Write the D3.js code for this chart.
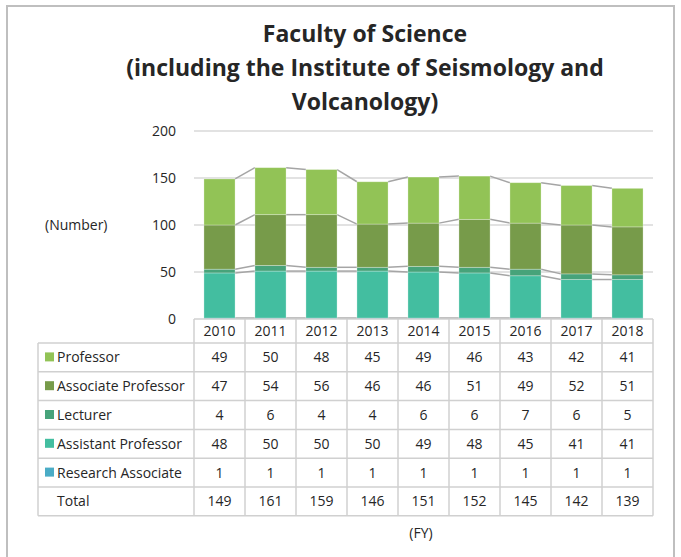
<!DOCTYPE html>
<html lang="en">
<head>
    <meta charset="UTF-8">
    <title>Faculty of Science</title>
    <script src="https://d3js.org/d3.v7.min.js"></script>
    <style>
        body { margin: 0; background: #fff; }
        svg text { font-family: "Open Sans", "Noto Sans", sans-serif; fill: #262626; }
    </style>
</head>
<body>
    <div id="chart"></div>
    <script>
        const years = ["2010", "2011", "2012", "2013", "2014", "2015", "2016", "2017", "2018"];
        const professor = [49, 50, 48, 45, 49, 46, 43, 42, 41];
        const associateProfessor = [47, 54, 56, 46, 46, 51, 49, 52, 51];
        const lecturer = [4, 6, 4, 4, 6, 6, 7, 6, 5];
        const assistantProfessor = [48, 50, 50, 50, 49, 48, 45, 41, 41];
        const researchAssociate = [1, 1, 1, 1, 1, 1, 1, 1, 1];
        const totals = [149, 161, 159, 146, 151, 152, 145, 142, 139];
        const yTicks = [0, 50, 100, 150, 200];

        // bottom of stack first
        const series = [
            { name: "Research Associate", values: researchAssociate, color: "#4aacc6" },
            { name: "Assistant Professor", values: assistantProfessor, color: "#43bea0" },
            { name: "Lecturer", values: lecturer, color: "#47a37a" },
            { name: "Associate Professor", values: associateProfessor, color: "#779b4a" },
            { name: "Professor", values: professor, color: "#92c356" }
        ];

        const width = 681, height = 557;
        const svg = d3.select("#chart").append("svg")
            .attr("width", width)
            .attr("height", height);

        // outer frame
        svg.append("rect")
            .attr("x", 7).attr("y", 6)
            .attr("width", 667).attr("height", 570)
            .attr("fill", "none")
            .attr("stroke", "#bfbfbf")
            .attr("stroke-width", 2);

        // title
        const titleLines = ["Faculty of Science", "(including the Institute of Seismology and", "Volcanology)"];
        svg.append("g").selectAll("text")
            .data(titleLines)
            .enter().append("text")
            .attr("x", 365)
            .attr("y", (d, i) => 42 + i * 34)
            .attr("text-anchor", "middle")
            .style("font-size", "23px")
            .style("font-weight", "bold")
            .text(d => d);

        const x = d3.scaleBand().domain(years).range([194, 653]);
        const y = d3.scaleLinear().domain([0, 200]).range([319, 131]);
        const barW = x.bandwidth() * 0.61;
        const barX = d => x(d) + (x.bandwidth() - barW) / 2;

        // gridlines
        svg.append("g").selectAll("line")
            .data(yTicks.slice(1))
            .enter().append("line")
            .attr("x1", 194).attr("x2", 653)
            .attr("y1", d => y(d)).attr("y2", d => y(d))
            .attr("stroke", "#d9d9d9")
            .attr("stroke-width", 1.5);

        // y tick labels
        svg.append("g").selectAll("text")
            .data(yTicks)
            .enter().append("text")
            .attr("x", 176)
            .attr("y", d => y(d) + 5)
            .attr("text-anchor", "end")
            .style("font-size", "14px")
            .text(d => d);

        svg.append("text")
            .attr("x", 45).attr("y", 230)
            .style("font-size", "14px")
            .text("(Number)");

        // stacked bars
        const rows = years.map((yr, i) => {
            const r = { year: yr };
            series.forEach(s => r[s.name] = s.values[i]);
            return r;
        });
        const stack = d3.stack().keys(series.map(s => s.name))(rows);

        // series lines between bars
        const lineG = svg.append("g");
        stack.forEach(layer => {
            for (let i = 0; i < years.length - 1; i++) {
                lineG.append("line")
                    .attr("x1", barX(years[i]) + barW)
                    .attr("x2", barX(years[i + 1]))
                    .attr("y1", y(layer[i][1]))
                    .attr("y2", y(layer[i + 1][1]))
                    .attr("stroke", "#a5a5a5")
                    .attr("stroke-width", 1.5);
            }
        });

        svg.append("g").selectAll("g")
            .data(stack)
            .enter().append("g")
            .attr("fill", (d, i) => series[i].color)
            .selectAll("rect")
            .data(d => d)
            .enter().append("rect")
            .attr("x", d => barX(d.data.year))
            .attr("y", d => y(d[1]))
            .attr("width", barW)
            .attr("height", d => y(d[0]) - y(d[1]))
            .attr("stroke", "#ffffff")
            .attr("stroke-opacity", 0.35)
            .attr("stroke-width", 0.8);

        // data table
        const tableLeft = 38, labelRight = 194;
        const headerTop = 319, headerH = 24, rowH = 28.8;
        const tableRows = series.slice().reverse().map(s => ({ name: s.name, values: s.values, color: s.color }))
            .concat([{ name: "Total", values: totals, color: null }]);
        const tableBottom = headerTop + headerH + rowH * tableRows.length;
        const grid = svg.append("g").attr("stroke", "#d0d0d0").attr("stroke-width", 1.5);

        // horizontal lines
        grid.append("line").attr("x1", labelRight).attr("x2", 653)
            .attr("y1", headerTop).attr("y2", headerTop);
        d3.range(tableRows.length + 1).forEach(k => {
            const yy = headerTop + headerH + k * rowH;
            grid.append("line").attr("x1", tableLeft).attr("x2", 653)
                .attr("y1", yy).attr("y2", yy);
        });
        // vertical lines
        grid.append("line").attr("x1", tableLeft).attr("x2", tableLeft)
            .attr("y1", headerTop + headerH).attr("y2", tableBottom);
        years.concat(["end"]).forEach((yr, k) => {
            const xx = 194 + k * x.step();
            grid.append("line").attr("x1", xx).attr("x2", xx)
                .attr("y1", headerTop).attr("y2", tableBottom);
        });

        // year header
        svg.append("g").selectAll("text")
            .data(years)
            .enter().append("text")
            .attr("x", d => x(d) + x.bandwidth() / 2)
            .attr("y", headerTop + headerH / 2 + 5)
            .attr("text-anchor", "middle")
            .style("font-size", "14px")
            .text(d => d);

        tableRows.forEach((r, k) => {
            const top = headerTop + headerH + k * rowH;
            const mid = top + rowH / 2;
            if (r.color) {
                svg.append("rect")
                    .attr("x", 45).attr("y", mid - 5)
                    .attr("width", 9).attr("height", 9)
                    .attr("fill", r.color);
            }
            svg.append("text")
                .attr("x", 57)
                .attr("y", mid + 5)
                .style("font-size", "14px")
                .text(r.name);
            svg.append("g").selectAll("text")
                .data(r.values)
                .enter().append("text")
                .attr("x", (d, i) => x(years[i]) + x.bandwidth() / 2)
                .attr("y", mid + 5)
                .attr("text-anchor", "middle")
                .style("font-size", "14px")
                .text(d => d);
        });

        svg.append("text")
            .attr("x", 421).attr("y", 538)
            .attr("text-anchor", "middle")
            .style("font-size", "14px")
            .text("(FY)");
    </script>
</body>
</html>
